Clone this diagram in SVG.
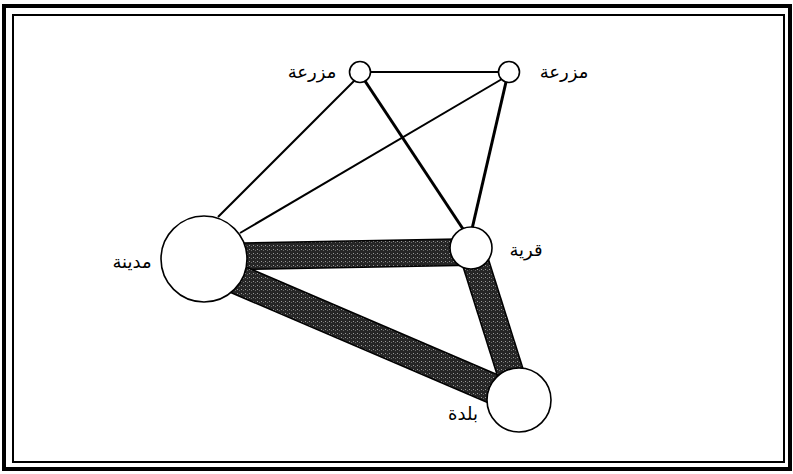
<svg xmlns="http://www.w3.org/2000/svg" width="793" height="474" viewBox="0 0 793 474">
  <defs>
    <pattern id="stip" width="4" height="4" patternUnits="userSpaceOnUse">
      <rect width="4" height="4" fill="#262626"/>
      <rect x="1" y="1" width="1" height="1" fill="#9a9a9a"/>
      <rect x="3" y="2" width="1" height="1" fill="#6a6a6a"/>
    </pattern>
  </defs>
  <style>
    .frame-out{fill:none;stroke:#000;stroke-width:4}
    .frame-in{fill:none;stroke:#000;stroke-width:2}
    .thin{stroke:#000;stroke-width:2;fill:none}
    .mid{stroke:#000;stroke-width:3;fill:none}
    .band-edge{stroke:#000;fill:none}
    .band{stroke:url(#stip);fill:none}
    .node{fill:#fff;stroke:#000;stroke-width:1.6}
    .lbl{font-family:"DejaVu Sans",sans-serif;font-size:18px;fill:#000;text-anchor:middle}
  </style>
  <rect width="793" height="474" fill="#fff"/>
  <rect class="frame-out" x="4" y="6" width="786" height="463"/>
  <rect class="frame-in" x="13" y="15" width="771" height="447"/>

  <g id="connectors">
    <line class="thin" x1="371" y1="72" x2="498" y2="72"/>
    <line class="thin" x1="355" y1="80" x2="218" y2="217"/>
    <line class="thin" x1="502" y1="79" x2="240" y2="233"/>
    <line class="mid" x1="365" y1="81" x2="463" y2="229"/>
    <line class="mid" x1="506" y1="82" x2="472" y2="229"/>
    <line class="band-edge" stroke-width="28" x1="204" y1="257" x2="471" y2="252"/>
    <line class="band" stroke-width="25" x1="204" y1="257" x2="471" y2="252"/>
    <line class="band-edge" stroke-width="31" x1="204" y1="265" x2="519" y2="400"/>
    <line class="band" stroke-width="28" x1="204" y1="265" x2="519" y2="400"/>
    <line class="band-edge" stroke-width="28" x1="471" y1="248" x2="519" y2="400"/>
    <line class="band" stroke-width="25" x1="471" y1="248" x2="519" y2="400"/>
  </g>

  <g id="farm1">
    <circle class="node" cx="360" cy="72" r="10.5"/>
    <text class="lbl" x="312" y="78">مزرعة</text>
  </g>
  <g id="farm2">
    <circle class="node" cx="509" cy="72" r="10.5"/>
    <text class="lbl" x="564" y="78">مزرعة</text>
  </g>
  <g id="city">
    <circle class="node" cx="204" cy="259" r="43"/>
    <text class="lbl" x="132" y="268">مدينة</text>
  </g>
  <g id="village">
    <circle class="node" cx="471" cy="248" r="21"/>
    <text class="lbl" x="526" y="256">قرية</text>
  </g>
  <g id="town">
    <circle class="node" cx="519" cy="400" r="32"/>
    <text class="lbl" x="463" y="420">بلدة</text>
  </g>
</svg>
